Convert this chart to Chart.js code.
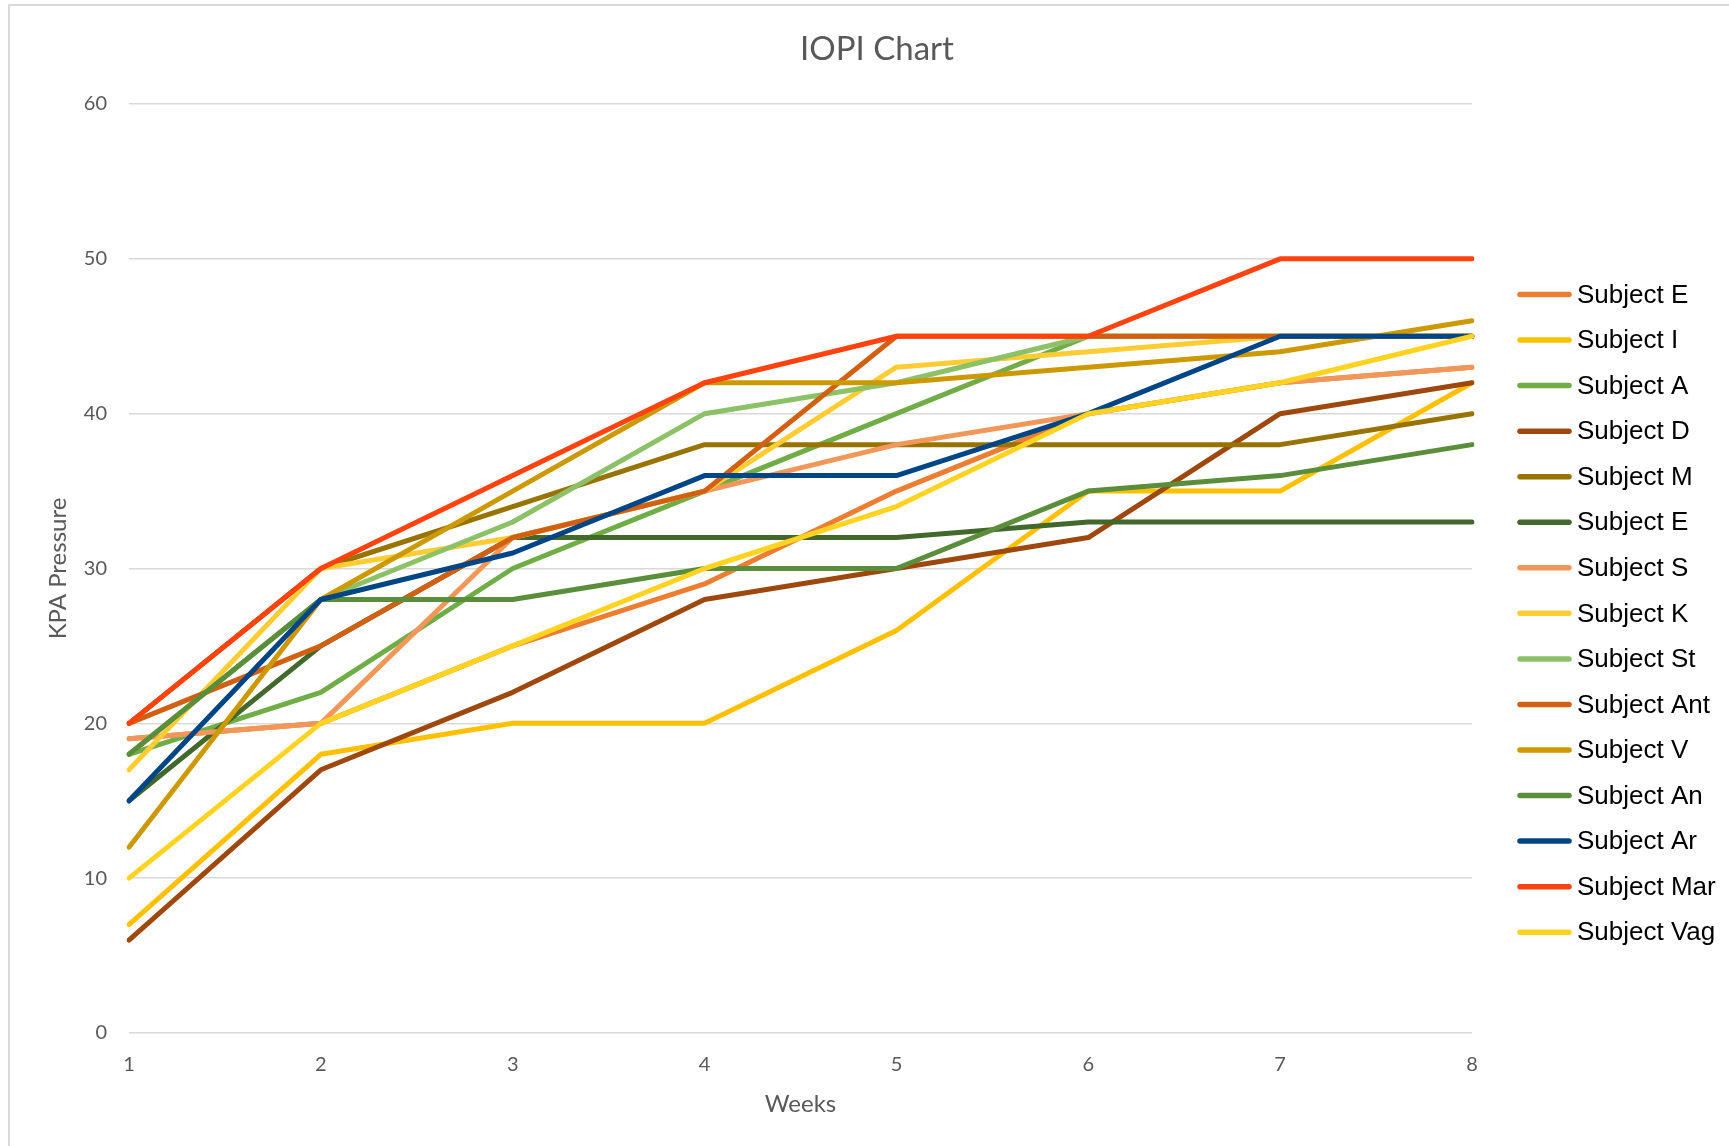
<!DOCTYPE html>
<html><head><meta charset="utf-8">
<script src="https://cdn.jsdelivr.net/npm/chart.js@4.4.0/dist/chart.umd.min.js"></script>
<style>
html,body{margin:0;padding:0;background:#fff;overflow:hidden}
#wrap{position:relative;width:1729px;height:1146px}
#frame{position:absolute;left:8px;top:4px;width:1800px;height:1200px;border:2px solid #d9d9d9;box-sizing:border-box;pointer-events:none}
canvas{position:absolute;left:0;top:0}
</style></head><body>
<div id="wrap"><div id="frame"></div><canvas id="c" width="1729" height="1146"></canvas></div>
<script>
const chartTitle = 'IOPI Chart';
const xTitle = 'Weeks';
const yTitle = 'KPA Pressure';
const weeks = ['1','2','3','4','5','6','7','8'];

const subjectNames = ['Subject E','Subject I','Subject A','Subject D','Subject M','Subject E','Subject S','Subject K','Subject St','Subject Ant','Subject V','Subject An','Subject Ar','Subject Mar','Subject Vag'];
const subjectColors = ['#ED7D31','#FFC000','#70AD47','#9E480E','#997300','#43682B','#F1975A','#FFCD33','#8CC168','#D26012','#CC9A00','#5A8E3A','#004586','#FF420E','#FFD320'];

const subjectE   = [19, 20, 25, 29, 35, 40, 42, 43];
const subjectI   = [ 7, 18, 20, 20, 26, 35, 35, 42];
const subjectA   = [18, 22, 30, 35, 40, 45, 45, 45];
const subjectD   = [ 6, 17, 22, 28, 30, 32, 40, 42];
const subjectM   = [20, 30, 34, 38, 38, 38, 38, 40];
const subjectE2  = [15, 25, 32, 32, 32, 33, 33, 33];
const subjectS   = [19, 20, 32, 35, 38, 40, 42, 43];
const subjectK   = [17, 30, 32, 35, 43, 44, 45, 45];
const subjectSt  = [18, 28, 33, 40, 42, 45, 45, 45];
const subjectAnt = [20, 25, 32, 35, 45, 45, 45, 45];
const subjectV   = [12, 28, 35, 42, 42, 43, 44, 46];
const subjectAn  = [18, 28, 28, 30, 30, 35, 36, 38];
const subjectAr  = [15, 28, 31, 36, 36, 40, 45, 45];
const subjectMar = [20, 30, 36, 42, 45, 45, 50, 50];
const subjectVag = [10, 20, 25, 30, 34, 40, 42, 45];

const seriesValues = [subjectE, subjectI, subjectA, subjectD, subjectM, subjectE2, subjectS, subjectK, subjectSt, subjectAnt, subjectV, subjectAn, subjectAr, subjectMar, subjectVag];

const n = seriesValues.length;
const datasets = seriesValues.map((vals, i) => ({
  label: subjectNames[i],
  data: vals,
  borderColor: subjectColors[i],
  backgroundColor: subjectColors[i],
  borderWidth: 5,
  pointRadius: 0,
  pointHoverRadius: 0,
  tension: 0,
  fill: false,
  borderCapStyle: 'round',
  borderJoinStyle: 'round',
  order: n - i
}));

const overlay = {
  id: 'overlay',
  afterDraw(chart) {
    const ctx = chart.ctx;
    ctx.save();
    ctx.fillStyle = '#595959';
    ctx.font = '33px Lato';
    ctx.textAlign = 'center';
    ctx.textBaseline = 'middle';
    ctx.fillText(chartTitle, 877, 49);
    ctx.textAlign = 'left';
    ctx.font = '26px "Liberation Sans"';
    chart.data.datasets.forEach((ds, i) => {
      const y = 294.5 + i * 45.55;
      ctx.strokeStyle = ds.borderColor;
      ctx.lineWidth = 5.5;
      ctx.lineCap = 'round';
      ctx.beginPath();
      ctx.moveTo(1520, y);
      ctx.lineTo(1569, y);
      ctx.stroke();
      ctx.fillStyle = '#000';
      ctx.fillText(ds.label, 1577, y + 1);
    });
    ctx.restore();
  }
};

new Chart(document.getElementById('c'), {
  type: 'line',
  data: { labels: weeks, datasets },
  options: {
    responsive: false,
    animation: false,
    layout: { padding: { top: 104, right: 257, left: 0, bottom: 0 } },
    plugins: { legend: { display: false }, title: { display: false }, tooltip: { enabled: false } },
    scales: {
      x: {
        offset: false,
        grid: { display: false, drawTicks: false },
        border: { display: false },
        ticks: { color: '#595959', font: { family: 'Lato', size: 20 }, padding: 20, maxRotation: 0 },
        title: { display: true, text: xTitle, color: '#595959', font: { family: 'Lato', size: 24 }, padding: { top: 0, bottom: 27 } },
        afterFit(scale) { scale.height = 113; }
      },
      y: {
        min: 0, max: 60,
        ticks: { stepSize: 10, color: '#595959', font: { family: 'Lato', size: 20 }, padding: 22 },
        grid: { color: '#d9d9d9', lineWidth: 1.5, drawTicks: false },
        border: { display: false },
        title: { display: true, text: yTitle, color: '#595959', font: { family: 'Lato', size: 24 }, padding: { top: 44, bottom: 0 } },
        afterFit(scale) { scale.width = 129; }
      }
    }
  },
  plugins: [overlay]
});
</script>
</body></html>
